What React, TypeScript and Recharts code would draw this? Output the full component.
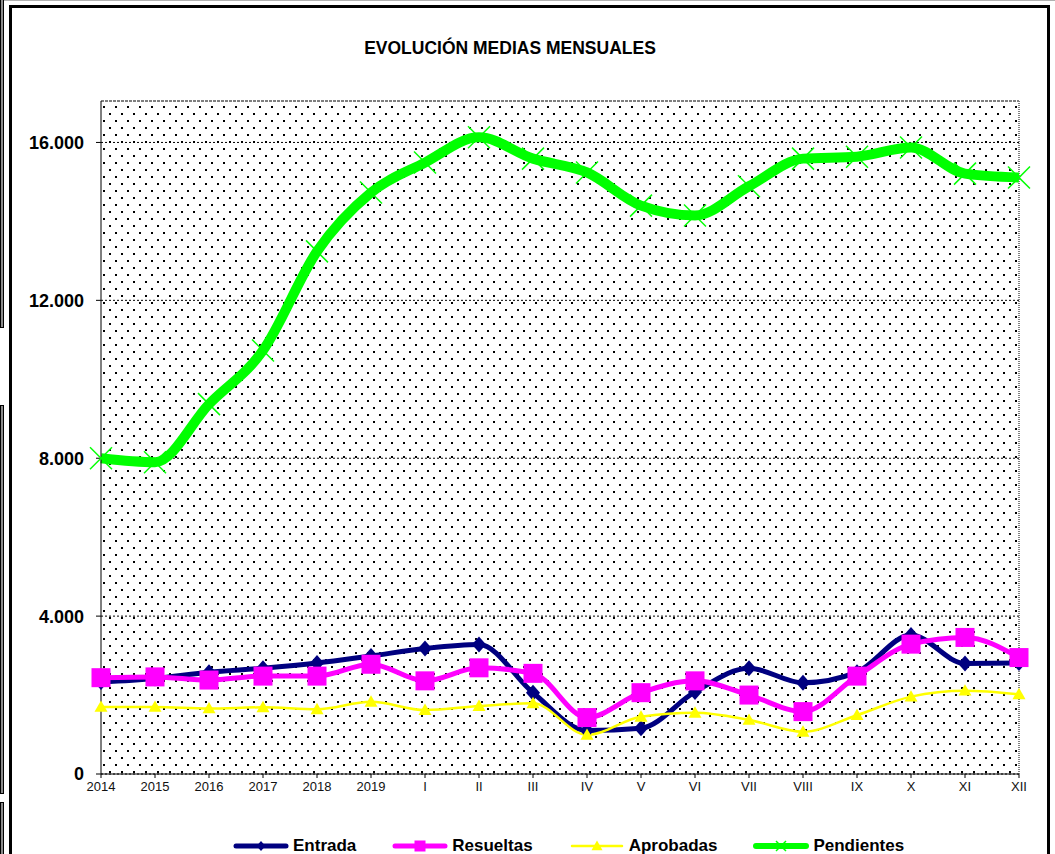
import React from 'react';
import { LineChart, Line, XAxis, YAxis, CartesianGrid, ReferenceLine } from 'recharts';

const categories = ['2014', '2015', '2016', '2017', '2018', '2019', 'I', 'II', 'III', 'IV', 'V', 'VI', 'VII', 'VIII', 'IX', 'X', 'XI', 'XII'];
const entrada = [2330, 2420, 2580, 2680, 2810, 2990, 3180, 3280, 2060, 1100, 1160, 2080, 2680, 2310, 2580, 3520, 2800, 2810];
const resueltas = [2440, 2460, 2380, 2480, 2480, 2780, 2360, 2690, 2550, 1430, 2060, 2360, 2000, 1580, 2480, 3290, 3460, 2950];
const aprobadas = [1700, 1700, 1660, 1690, 1640, 1830, 1620, 1720, 1790, 990, 1450, 1550, 1370, 1070, 1490, 1960, 2110, 2020];
const pendientes = [8000, 7900, 9370, 10730, 13240, 14730, 15490, 16130, 15590, 15240, 14400, 14150, 14890, 15590, 15640, 15870, 15210, 15110];
const yTicks = [0, 4000, 8000, 12000, 16000];
const Y_MAX = 17050;

const FONT = 'Arial, "Liberation Sans", sans-serif';

const data = categories.map((name, i) => ({
  name,
  entrada: entrada[i],
  resueltas: resueltas[i],
  aprobadas: aprobadas[i],
  pendientes: pendientes[i],
}));

const fmt = (v: number) => String(v).replace(/\B(?=(\d{3})+(?!\d))/g, '.');

type Shape = 'diamond' | 'square' | 'triangle' | 'cross';

// one marker drawer, used for the chart and the legend
const marker = (shape: Shape, cx: number, cy: number, s: number, color: string, key?: string | number) => {
  if (shape === 'diamond') {
    return <polygon key={key} points={`${cx},${cy - s} ${cx + s * 0.88},${cy} ${cx},${cy + s} ${cx - s * 0.88},${cy}`} fill={color} />;
  }
  if (shape === 'square') {
    return <rect key={key} x={cx - s} y={cy - s} width={s * 2} height={s * 2} fill={color} />;
  }
  if (shape === 'triangle') {
    return <polygon key={key} points={`${cx},${cy - s} ${cx + s},${cy + s * 0.75} ${cx - s},${cy + s * 0.75}`} fill={color} />;
  }
  return (
    <g key={key} stroke={color} strokeWidth={1.5}>
      <line x1={cx - s} y1={cy - s} x2={cx + s} y2={cy + s} />
      <line x1={cx - s} y1={cy + s} x2={cx + s} y2={cy - s} />
    </g>
  );
};

const series = [
  { key: 'entrada', label: 'Entrada', color: '#000080', width: 5, shape: 'diamond' as Shape, size: 8, legendSize: 5, legendWidth: 5 },
  { key: 'resueltas', label: 'Resueltas', color: '#FF00FF', width: 5, shape: 'square' as Shape, size: 9.5, legendSize: 5.5, legendWidth: 5 },
  { key: 'aprobadas', label: 'Aprobadas', color: '#FFFF00', width: 2.5, shape: 'triangle' as Shape, size: 6.5, legendSize: 5.5, legendWidth: 2.5 },
  { key: 'pendientes', label: 'Pendientes', color: '#00FF00', width: 10, shape: 'cross' as Shape, size: 11, legendSize: 5, legendWidth: 6 },
];

const strip = (top: number, height: number) => (
  <div style={{ position: 'absolute', left: 0, top, width: 2, height, border: '1px solid #000', background: '#8a8a8a' }} />
);

export default function App() {
  return (
    <div style={{ position: 'absolute', left: 0, top: 0, width: 1055, height: 854, overflow: 'hidden', background: '#fff', fontFamily: FONT }}>
      <svg width={0} height={0} style={{ position: 'absolute' }}>
        <defs>
          <pattern id="dotPattern" width={12} height={14} patternUnits="userSpaceOnUse">
            <rect x={0} y={0} width={12} height={14} fill="#fff" />
            <rect x={1} y={1} width={2} height={2} fill="#000" />
            <rect x={7} y={8} width={2} height={2} fill="#000" />
          </pattern>
        </defs>
      </svg>

      {/* outer frames */}
      <div style={{ position: 'absolute', left: 0, top: 0, width: 1055, height: 1, background: '#b0b0b0' }} />
      <div style={{ position: 'absolute', left: 9, top: 5, width: 1035, height: 900, borderLeft: '3px solid #000', borderTop: '3px solid #000', borderRight: '3px solid #000' }} />
      {strip(-2, 328)}
      {strip(405, 387)}
      {strip(802, 60)}

      <div style={{ position: 'absolute', left: 0, top: 0 }}>
        <LineChart width={1055} height={854} data={data} margin={{ top: 101, right: 36, bottom: 60, left: 11 }}>
          <CartesianGrid vertical={false} stroke="#000" strokeDasharray="2 2" fill="url(#dotPattern)" fillOpacity={1} />
          <XAxis
            dataKey="name"
            scale="point"
            padding={{ left: 0, right: 0 }}
            interval={0}
            height={20}
            tickSize={4}
            tickMargin={4}
            axisLine={{ stroke: '#000' }}
            tickLine={{ stroke: '#000' }}
            tick={{ fontSize: 13, fill: '#111', fontFamily: FONT }}
          />
          <YAxis
            domain={[0, Y_MAX]}
            ticks={yTicks}
            tickFormatter={fmt}
            width={90}
            tickSize={5}
            tickMargin={12}
            axisLine={{ stroke: '#000' }}
            tickLine={{ stroke: '#000' }}
            tick={{ fontSize: 18, fontWeight: 'bold', fill: '#000', fontFamily: FONT }}
          />
          <ReferenceLine y={Y_MAX} stroke="#808080" strokeWidth={2} strokeDasharray="1 1" />
          <ReferenceLine x="XII" stroke="#808080" strokeWidth={2} strokeDasharray="1 1" />
          {series.map((s) => (
            <Line
              key={s.key}
              type="monotone"
              dataKey={s.key}
              stroke={s.color}
              strokeWidth={s.width}
              strokeLinejoin="round"
              dot={(p: any) => marker(s.shape, p.cx, p.cy, s.size, s.color, `${s.key}-${p.index}`)}
              activeDot={false}
              isAnimationActive={false}
            />
          ))}
        </LineChart>
      </div>

      {/* title */}
      <div style={{ position: 'absolute', left: 0, top: 38, width: 1020, textAlign: 'center', fontSize: 17.5, fontWeight: 'bold', color: '#000' }}>
        EVOLUCIÓN MEDIAS MENSUALES
      </div>

      {/* legend */}
      <div style={{ position: 'absolute', left: 233, top: 836, display: 'flex', alignItems: 'center', gap: 36, height: 20 }}>
        {series.map((s) => (
          <div key={s.key} style={{ display: 'flex', alignItems: 'center', gap: 4 }}>
            <svg width={56} height={16}>
              <line x1={3} y1={8} x2={53} y2={8} stroke={s.color} strokeWidth={s.legendWidth} strokeLinecap="round" />
              {marker(s.shape, 28, 8, s.legendSize, s.color)}
            </svg>
            <span style={{ fontSize: 17, fontWeight: 'bold', color: '#000', lineHeight: '20px' }}>{s.label}</span>
          </div>
        ))}
      </div>
    </div>
  );
}
